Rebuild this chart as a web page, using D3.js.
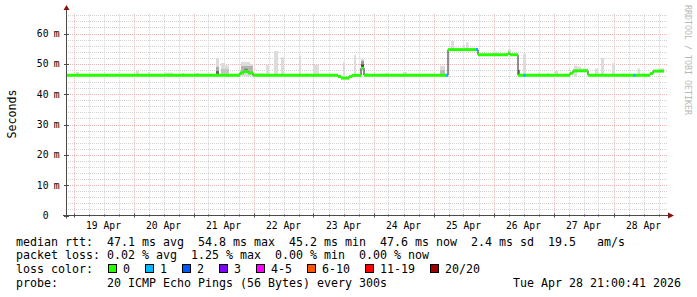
<!DOCTYPE html>
<html><head><meta charset="utf-8">
<script src="https://cdn.jsdelivr.net/npm/d3@7"></script>
<style>
html,body{margin:0;padding:0;background:#fff;}
svg{display:block;}
text{font-family:"DejaVu Sans Mono",monospace;white-space:pre;}
</style>
</head><body>
<svg id="c" width="697" height="297"></svg>
<script>
// ---- data (times 2026, "MM-DD HH:MM"; values in ms) ----
const rangeStart = "04-18 21:00";
const rangeEnd = "04-28 21:00";

const medianTimes = ["04-18 21:00","04-21 18:36","04-21 20:12","04-21 21:48","04-21 23:48",
  "04-23 09:48","04-23 11:00","04-23 14:12","04-23 15:24","04-23 19:00","04-23 20:12",
  "04-25 05:48","04-25 17:48","04-26 05:48","04-26 06:36","04-26 09:48",
  "04-27 06:36","04-27 07:48","04-27 13:48","04-28 14:36","04-28 15:48","04-28 20:12"];
const medianValues = [46.2,47.0,47.5,47.0,46.2,
  45.8,45.3,45.8,46.2,48.6,46.2,
  54.7,53.0,53.6,53.0,46.2,
  46.9,47.7,46.2,46.8,47.6,47.6];

const lossStart = ["04-25 05:00","04-25 17:00","04-26 12:00","04-28 08:00"];
const lossEnd   = ["04-25 05:48","04-25 17:48","04-26 12:48","04-28 08:48"];
const lossPings = [1,1,1,1];

const smokeStart = ["04-19 01:00","04-20 01:00","04-20 05:48","04-20 12:36","04-20 19:24","04-21 00:36",
  "04-21 09:00","04-21 11:00","04-21 12:36","04-21 19:00","04-21 22:36","04-21 23:48","04-22 05:00",
  "04-22 08:12","04-22 11:00","04-22 18:12","04-22 21:00","04-22 23:48","04-23 11:48","04-23 16:12",
  "04-23 19:00","04-23 20:12","04-24 04:36","04-24 11:48","04-25 02:36","04-25 07:00","04-25 11:48",
  "04-25 13:00","04-25 23:48","04-26 05:48","04-26 09:48","04-26 11:48","04-26 17:48","04-26 21:24",
  "04-27 00:36","04-27 08:12","04-27 09:24","04-27 11:00","04-27 16:36","04-27 19:00","04-27 23:24",
  "04-28 03:48","04-28 09:36","04-28 11:24","04-28 17:48"];
const smokeEnd = ["04-19 02:12","04-20 02:12","04-20 06:36","04-20 15:48","04-20 20:12","04-21 02:12",
  "04-21 10:12","04-21 12:36","04-21 14:12","04-21 22:36","04-21 23:48","04-22 04:36","04-22 06:12",
  "04-22 09:48","04-22 12:12","04-22 19:00","04-22 21:48","04-23 02:12","04-23 12:36","04-23 17:00",
  "04-23 20:12","04-23 21:48","04-24 05:48","04-24 13:24","04-25 04:36","04-25 08:12","04-25 12:36",
  "04-25 14:00","04-26 01:48","04-26 07:00","04-26 10:36","04-26 13:00","04-26 18:36","04-26 22:12",
  "04-27 01:48","04-27 09:24","04-27 11:00","04-27 13:48","04-27 17:48","04-27 20:12","04-28 00:36",
  "04-28 04:36","04-28 10:36","04-28 12:12","04-28 20:12"];
const smokeLow = [45.9,45.9,45.9,45.9,45.9,45.9,
  45.9,45.9,45.9,45.9,45.9,45.9,45.9,
  45.9,45.9,45.9,45.9,45.9,45.0,45.9,
  48.0,45.9,45.9,45.9,45.9,54.4,54.4,
  54.4,52.7,52.7,45.9,45.9,45.9,45.9,
  45.9,45.9,47.4,47.4,45.9,45.9,45.9,
  45.9,45.9,45.9,47.3];
const smokeHigh = [47.3,47.7,47.2,47.1,47.0,47.0,
  52.0,50.3,49.5,50.6,50.0,46.9,49.7,
  54.2,52.2,52.6,46.9,49.6,50.6,52.9,
  51.6,47.0,47.0,47.3,49.4,57.6,56.2,
  57.1,54.0,54.8,48.0,53.4,47.0,47.0,
  47.7,49.4,49.1,48.5,48.5,52.0,50.2,
  47.0,48.5,47.0,48.5];

const darkStart = ["04-21 09:00","04-21 09:00","04-21 11:00","04-21 19:00","04-21 20:12","04-23 19:00","04-23 19:00","04-25 02:36","04-26 09:48"];
const darkEnd   = ["04-21 10:12","04-21 10:12","04-21 14:12","04-21 23:48","04-21 21:48","04-23 20:12","04-23 20:12","04-25 04:36","04-26 10:36"];
const darkLow   = [46.2,46.2,46.8,47.0,47.3,48.6,48.6,46.5,46.2];
const darkHigh  = [49.0,47.6,48.3,49.3,48.4,51.0,49.8,48.0,48.0];
const darkShade = ["#aaaaaa","#666666","#c2c2c2","#b4b4b4","#808080","#9a9a9a","#444444","#bdbdbd","#8a8a8a"];

const dayLabels = ["19 Apr","20 Apr","21 Apr","22 Apr","23 Apr","24 Apr","25 Apr","26 Apr","27 Apr","28 Apr"];
const yTicks = [0,10,20,30,40,50,60];

const lossLabels = ["0","1","2","3","4-5","6-10","11-19","20/20"];
const lossColors = ["#26ff00","#00b8ff","#0059ff","#7e00ff","#ff00ff","#ff5500","#ff0000","#a10000"];

const legendLines = [
  "median rtt:  47.1 ms avg  54.8 ms max  45.2 ms min  47.6 ms now  2.4 ms sd  19.5   am/s",
  "packet loss: 0.02 % avg  1.25 % max  0.00 % min  0.00 % now",
  "loss color:",
  "probe:       20 ICMP Echo Pings (56 Bytes) every 300s"
];
const stamp = "Tue Apr 28 21:00:41 2026";
const yTitle = "Seconds";
const watermark = "RRDTOOL / TOBI OETIKER";

// ---- drawing ----
const P = s => { const [md, hm] = s.split(" "); const [mo, d] = md.split("-").map(Number);
  const [h, mi] = hm.split(":").map(Number); return new Date(2026, mo - 1, d, h, mi); };

const svg = d3.select("#c");
svg.append("rect").attr("width", 697).attr("height", 297).attr("fill", "#ffffff");

const L = 66, R = 666, B = 215.5, T = 13.8;
const x = d3.scaleTime().domain([P(rangeStart), P(rangeEnd)]).range([L, R]);
const y = d3.scaleLinear().domain([0, 66.5]).range([B, T]);

// grid
const minorC = "#d2d2d2", majorC = "#eab4b4";
const g = svg.append("g");
const minorH = d3.range(2, 66.6, 2).filter(v => v % 10 !== 0);
g.selectAll(".hm").data(minorH).join("line")
  .attr("x1", L).attr("x2", R + 2).attr("y1", d => Math.round(y(d)) + 0.5).attr("y2", d => Math.round(y(d)) + 0.5)
  .attr("stroke", minorC).attr("stroke-dasharray", "1,1");
const hours = d3.timeHour.every(6).range(P(rangeStart), P(rangeEnd));
const minorV = hours.filter(d => d.getHours() !== 0);
const majorV = hours.filter(d => d.getHours() === 0);
g.selectAll(".vm").data(minorV).join("line")
  .attr("x1", d => Math.round(x(d)) + 0.5).attr("x2", d => Math.round(x(d)) + 0.5)
  .attr("y1", T).attr("y2", B).attr("stroke", minorC).attr("stroke-dasharray", "1,1");
g.selectAll(".hM").data(yTicks.filter(v => v > 0)).join("line")
  .attr("x1", L).attr("x2", R + 2).attr("y1", d => Math.round(y(d)) + 0.5).attr("y2", d => Math.round(y(d)) + 0.5)
  .attr("stroke", majorC).attr("stroke-dasharray", "1,1");
g.selectAll(".vM").data(majorV).join("line")
  .attr("x1", d => Math.round(x(d)) + 0.5).attr("x2", d => Math.round(x(d)) + 0.5)
  .attr("y1", T).attr("y2", B).attr("stroke", majorC).attr("stroke-dasharray", "1,1");

// smoke
const smoke = smokeStart.map((s, i) => ({ t0: P(s), t1: P(smokeEnd[i]), lo: smokeLow[i], hi: smokeHigh[i] }));
svg.append("g").selectAll("rect").data(smoke).join("rect")
  .attr("x", d => x(d.t0)).attr("width", d => x(d.t1) - x(d.t0))
  .attr("y", d => y(d.hi)).attr("height", d => y(d.lo) - y(d.hi)).attr("fill", "#dcdcdc");
const dark = darkStart.map((s, i) => ({ t0: P(s), t1: P(darkEnd[i]), lo: darkLow[i], hi: darkHigh[i], c: darkShade[i] }));
svg.append("g").selectAll("rect").data(dark).join("rect")
  .attr("x", d => x(d.t0)).attr("width", d => x(d.t1) - x(d.t0))
  .attr("y", d => y(d.hi)).attr("height", d => y(d.lo) - y(d.hi)).attr("fill", d => d.c);

// median
const med = medianTimes.map((s, i) => ({ t: P(s), v: medianValues[i] }));
svg.append("path").datum(med)
  .attr("d", d3.line().x(d => x(d.t)).y(d => y(d.v)).curve(d3.curveStepAfter))
  .attr("fill", "none").attr("stroke", "#202020").attr("stroke-width", 1);
const segs = med.slice(0, -1).map((d, i) => ({ t0: d.t, t1: med[i + 1].t, v: d.v }));
svg.append("g").selectAll("line").data(segs).join("line")
  .attr("x1", d => x(d.t0)).attr("x2", d => x(d.t1)).attr("y1", d => y(d.v)).attr("y2", d => y(d.v))
  .attr("stroke", lossColors[0]).attr("stroke-width", 3);
const valueAt = t => { let v = med[0].v; for (const d of med) if (d.t <= t) v = d.v; return v; };
const loss = lossStart.map((s, i) => ({ t0: P(s), t1: P(lossEnd[i]), n: lossPings[i] }));
svg.append("g").selectAll("line").data(loss).join("line")
  .attr("x1", d => x(d.t0)).attr("x2", d => x(d.t1))
  .attr("y1", d => y(valueAt(d.t0))).attr("y2", d => y(valueAt(d.t0)))
  .attr("stroke", d => lossColors[d.n]).attr("stroke-width", 3);

// axes
const axisC = "#4a4a4a", arrowC = "#8b1010";
svg.append("line").attr("x1", L + 0.5).attr("x2", L + 0.5).attr("y1", B + 3).attr("y2", 8).attr("stroke", axisC);
svg.append("line").attr("x1", L - 3).attr("x2", 670).attr("y1", B).attr("y2", B).attr("stroke", axisC);
svg.append("path").attr("d", `M${L - 2.5},10 L${L + 0.5},5 L${L + 3.5},10 Z`).attr("fill", arrowC);
svg.append("path").attr("d", `M668,${B - 3} L674,${B} L668,${B + 3} Z`).attr("fill", arrowC);
svg.append("g").selectAll("line").data(majorV).join("line")
  .attr("x1", d => Math.round(x(d)) + 0.5).attr("x2", d => Math.round(x(d)) + 0.5)
  .attr("y1", B - 2).attr("y2", B + 2).attr("stroke", axisC);
svg.append("g").selectAll("line").data(minorV).join("line")
  .attr("x1", d => Math.round(x(d)) + 0.5).attr("x2", d => Math.round(x(d)) + 0.5)
  .attr("y1", B - 1).attr("y2", B + 1).attr("stroke", axisC);
svg.append("g").selectAll("line").data(yTicks).join("line")
  .attr("x1", L - 2).attr("x2", L + 3).attr("y1", d => Math.round(y(d)) + 0.5).attr("y2", d => Math.round(y(d)) + 0.5)
  .attr("stroke", axisC);

// y tick labels
const yl = svg.append("g").attr("font-size", "9.7px").attr("fill", "#000");
yl.selectAll(".n").data(yTicks).join("text")
  .attr("x", 48.5).attr("y", d => y(d) + 3.6).attr("text-anchor", "end").text(d => d);
yl.selectAll(".u").data(yTicks.filter(v => v > 0)).join("text")
  .attr("x", 53.8).attr("y", d => y(d) + 3.6).text("m");

// x tick labels (centered at noon)
const noons = d3.timeDay.range(P("04-19 00:00"), P("04-29 00:00")).map(d => d3.timeHour.offset(d, 12));
svg.append("g").attr("font-size", "9.7px").attr("fill", "#000").selectAll("text").data(noons).join("text")
  .attr("x", d => x(d)).attr("y", 228.8).attr("text-anchor", "middle").text((d, i) => dayLabels[i]);

// y title
svg.append("text").attr("transform", "translate(15.5,114) rotate(-90)").attr("text-anchor", "middle")
  .attr("font-size", "11.6px").attr("fill", "#000").text(yTitle);

// watermark
svg.append("text").attr("transform", "translate(684.5,5) rotate(90)").attr("font-size", "8.3px")
  .attr("fill", "#b8b8b8").text(watermark);

// legend
const lg = svg.append("g").attr("font-size", "11.63px").attr("fill", "#000");
const baseY = [245.6, 259.3, 273.2, 287.0];
legendLines.forEach((s, i) => lg.append("text").attr("x", 16).attr("y", baseY[i]).text(s));
lg.append("text").attr("x", 681).attr("y", baseY[3]).attr("text-anchor", "end").text(stamp);
let sx = 108;
lossLabels.forEach((lab, i) => {
  lg.append("rect").attr("x", sx + 0.5).attr("y", 264.5).attr("width", 8).attr("height", 8)
    .attr("fill", lossColors[i]).attr("stroke", "#000");
  lg.append("text").attr("x", sx + 15).attr("y", baseY[2]).text(lab);
  sx += 37 + 7 * (lab.length - 1);
});
</script>
</body></html>
